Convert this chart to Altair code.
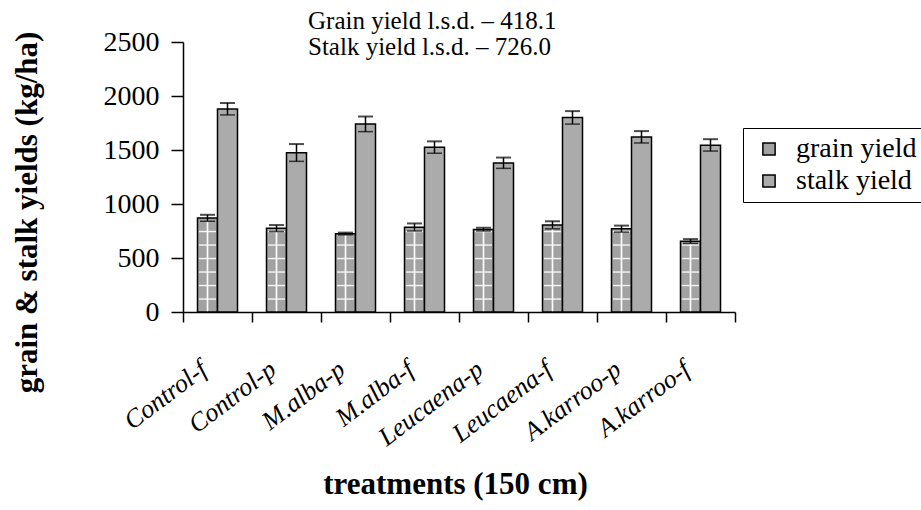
import altair as alt
import pandas as pd

treatments = ["Control-f", "Control-p", "M.alba-p", "M.alba-f",
              "Leucaena-p", "Leucaena-f", "A.karroo-p", "A.karroo-f"]
grain = [870, 775, 725, 785, 765, 805, 770, 655]
grain_err = [30, 30, 10, 35, 15, 35, 30, 20]
stalk = [1880, 1475, 1740, 1525, 1380, 1800, 1620, 1545]
stalk_err = [55, 80, 70, 55, 50, 60, 55, 55]
series = ["grain yield", "stalk yield"]
lsd_names = ["Grain", "Stalk"]
lsd_values = [418.1, 726.0]
y_ticks = [0, 500, 1000, 1500, 2000, 2500]

rows = []
for i, t in enumerate(treatments):
    rows.append({"treatment": t, "series": series[0], "value": grain[i], "err": grain_err[i]})
    rows.append({"treatment": t, "series": series[1], "value": stalk[i], "err": stalk_err[i]})
df = pd.DataFrame(rows)
df["lo"] = df["value"] - df["err"]
df["hi"] = df["value"] + df["err"]
df_grain = df[df["series"] == series[0]].copy()

FONT = "Liberation Serif"
XT = "treatments (150 cm)"
YT = "grain & stalk yields (kg/ha)"

x_axis = alt.Axis(title=XT, labelAngle=-37,
                  labelAlign="right", labelBaseline="middle",
                  labelFont=FONT, labelFontStyle="italic", labelFontSize=26,
                  labelPadding=44, labelOffset=-14, labelColor="black",
                  tickBand="extent", tickSize=10, tickColor="black", tickWidth=1.5,
                  domainColor="black", domainWidth=1.5,
                  titleFont=FONT, titleFontWeight="bold", titleFontSize=31,
                  titleColor="black", titleY=172, titleX=272, titleBaseline="middle")
y_axis = alt.Axis(title=YT, values=y_ticks, grid=False, format="d",
                  labelFont=FONT, labelFontSize=28, labelColor="black",
                  labelPadding=12, tickSize=12, tickColor="black", tickWidth=1.5,
                  domainColor="black", domainWidth=1.5,
                  titleFont=FONT, titleFontWeight="bold", titleFontSize=31,
                  titleColor="black", titleAngle=270, titleX=-156, titleY=170,
                  titleAlign="center", titleBaseline="middle")

x_scale = alt.Scale(domain=treatments, paddingInner=0, paddingOuter=0)
y_scale = alt.Scale(domain=[0, 2500], nice=False)


def xenc():
    return alt.X("treatment:N", sort=treatments, scale=x_scale, title=XT)


def yenc(field):
    return alt.Y(field, scale=y_scale, title=YT)


xo_enc = alt.XOffset("series:N", sort=series,
                     scale=alt.Scale(domain=series, paddingInner=0, paddingOuter=0.725))

bars = alt.Chart(df).mark_bar(stroke="black", strokeWidth=1.5).encode(
    x=alt.X("treatment:N", sort=treatments, scale=x_scale, axis=x_axis),
    xOffset=xo_enc,
    y=alt.Y("value:Q", scale=y_scale, axis=y_axis),
    color=alt.Color("series:N", scale=alt.Scale(domain=series, range=["#a2a2a2", "#ababab"]),
                    legend=alt.Legend(title=None, orient="none", legendX=560, legendY=86,
                                      strokeColor="black", fillColor="white", padding=7,
                                      symbolType="square", symbolSize=150,
                                      symbolStrokeColor="black", symbolStrokeWidth=1.5,
                                      symbolOffset=5, labelOffset=13,
                                      labelFont=FONT, labelFontSize=28, labelColor="black",
                                      rowPadding=4)))

hatch_h = alt.Chart(df_grain).transform_calculate(
    level="sequence(120, datum.value - 15, 125)"
).transform_flatten(["level"]).mark_tick(color="white", thickness=1.4, size=17, opacity=0.9).encode(
    x=xenc(), xOffset=xo_enc, y=yenc("level:Q"))

hatch_v1 = alt.Chart(df_grain).transform_calculate(
    top="datum.value - 12"
).mark_rule(color="white", strokeWidth=1.4, opacity=0.9, xOffset=-3.5).encode(
    x=xenc(), xOffset=xo_enc, y=yenc("top:Q"), y2=alt.datum(8))
hatch_v2 = alt.Chart(df_grain).transform_calculate(
    top="datum.value - 12"
).mark_rule(color="white", strokeWidth=1.4, opacity=0.9, xOffset=3.5).encode(
    x=xenc(), xOffset=xo_enc, y=yenc("top:Q"), y2=alt.datum(8))

err_rule = alt.Chart(df).mark_rule(color="black", strokeWidth=1.5).encode(
    x=xenc(), xOffset=xo_enc, y=yenc("lo:Q"), y2="hi:Q")
err_top = alt.Chart(df).mark_tick(color="black", thickness=2, size=15).encode(
    x=xenc(), xOffset=xo_enc, y=yenc("hi:Q"))
err_bot = alt.Chart(df).mark_tick(color="black", thickness=1.5, size=15).encode(
    x=xenc(), xOffset=xo_enc, y=yenc("lo:Q"))

txt_df = pd.DataFrame({"label": [f"{n} yield l.s.d. \u2013 {v:.1f}" for n, v in zip(lsd_names, lsd_values)]})
txt1 = alt.Chart(txt_df.iloc[[0]]).mark_text(align="left", baseline="alphabetic", font=FONT,
                                             fontSize=25, color="black").encode(
    x=alt.value(125), y=alt.value(-13), text="label:N")
txt2 = alt.Chart(txt_df.iloc[[1]]).mark_text(align="left", baseline="alphabetic", font=FONT,
                                             fontSize=25, color="black").encode(
    x=alt.value(125), y=alt.value(13), text="label:N")

chart = alt.layer(bars, hatch_h, hatch_v1, hatch_v2, err_rule, err_top, err_bot, txt1, txt2).properties(
    width=552, height=270,
    autosize=alt.AutoSizeParams(type="none"),
    padding={"left": 183, "top": 42, "right": 186, "bottom": 198},
    background="white",
).configure(font=FONT).configure_view(stroke=None).configure_axis(
    labelFont=FONT, titleFont=FONT
).configure_legend(labelFont=FONT)

chart.save("out.html", embed_options={"renderer": "svg", "actions": False})
